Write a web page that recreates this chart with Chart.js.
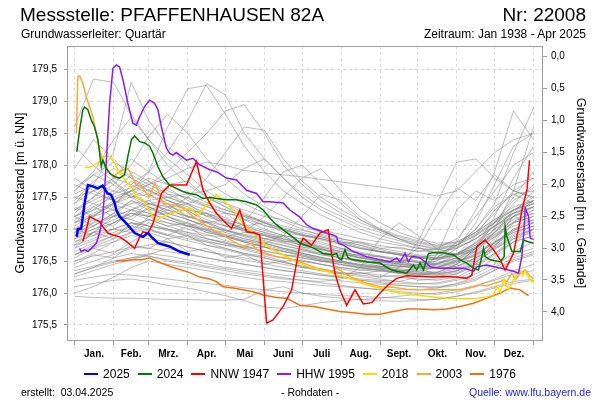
<!DOCTYPE html>
<html>
<head>
<meta charset="utf-8">
<script src="https://cdn.jsdelivr.net/npm/chart.js@4.4.1/dist/chart.umd.min.js"></script>
<style>
  body { margin: 0; background: #fff; font-family: "Liberation Sans", Arial, sans-serif; }
  #wrap { position: relative; width: 600px; height: 400px; overflow: hidden; }
  canvas { position: absolute; left: 0; top: 0; }
  .t { position: absolute; white-space: nowrap; color: #000; line-height: 1; }
  #legend { position: absolute; left: 0; width: 600px; top: 368px; display: flex; justify-content: center; font-size: 12px; line-height: 12px; }
  #legend span.item { display: flex; align-items: center; margin: 0 4px; }
  #legend span.line { display: inline-block; width: 14px; height: 2px; margin-right: 5px; }
</style>
</head>
<body>
<div id="wrap">
  <canvas id="chart" width="600" height="400"></canvas>
  <div class="t" style="left:20px;top:5px;font-size:19px">Messstelle: PFAFFENHAUSEN 82A</div>
  <div class="t" style="right:14px;top:5px;font-size:19px">Nr: 22008</div>
  <div class="t" style="left:21px;top:28px;font-size:12px">Grundwasserleiter: Quartär</div>
  <div class="t" style="right:14px;top:28px;font-size:12px">Zeitraum: Jan 1938 - Apr 2025</div>
  <div id="legend"></div>
  <div class="t" style="left:21px;top:387px;font-size:10.5px">erstellt:&nbsp; 03.04.2025</div>
  <div class="t" style="left:281px;top:387px;font-size:10.5px">- Rohdaten -</div>
  <div class="t" style="right:9px;top:387px;font-size:10.5px;color:#2222ff">Quelle: www.lfu.bayern.de</div>
</div>
<script>
// day of year (0 = 1. Jan) and level in m ü. NN
const monthStarts = [0, 31, 59, 90, 120, 151, 181, 212, 243, 273, 304, 334, 365];
const monthMids = [15.5, 45, 74.5, 105, 135.5, 166, 196.5, 227.5, 258, 288.5, 319, 349.5];
const monthNames = ["Jan.", "Feb.", "Mrz.", "Apr.", "Mai", "Juni", "Juli", "Aug.", "Sept.", "Okt.", "Nov.", "Dez."];
const levelTicks = [175.5, 176, 176.5, 177, 177.5, 178, 178.5, 179, 179.5];
const depthTicks = [0, 0.5, 1, 1.5, 2, 2.5, 3, 3.5, 4];
const groundLevel = 179.705;

const days2025 = [1.8, 2.6, 5.3, 8.0, 10.6, 14.5, 18.4, 22.3, 26.3, 29.0, 31.9, 33.2, 35.8, 41.2, 47.8, 54.4, 58.4, 61.1, 66.4, 75.6, 83.6, 91.6];
const lvl2025 = [176.88, 177.00, 177.01, 177.41, 177.69, 177.67, 177.64, 177.68, 177.56, 177.54, 177.41, 177.30, 177.20, 177.09, 176.94, 176.88, 176.94, 176.88, 176.78, 176.73, 176.65, 176.60];

const days2024 = [1.8, 4, 6.6, 8, 10.6, 13.3, 15.9, 18.6, 21.3, 22.5, 25.2, 27.9, 31.9, 35.8, 39.8, 42.4, 45.2, 47.8, 51.8, 55.7, 59.7, 62.4, 66.3, 70.3, 75.6, 81, 86.2, 91.6, 96.9, 102.2, 107.5, 112.8, 120.8, 128.8, 136.7, 144.7, 150, 155.3, 160.6, 165.9, 171.2, 176.6, 179.2, 187.1, 192.5, 195.1, 197.7, 205.7, 208.4, 209.7, 212.4, 215, 217.6, 221.6, 232.3, 242.9, 249.5, 252.2, 256.2, 264.2, 269.4, 272.1, 274.7, 277.4, 281.4, 285.3, 293.3, 301.3, 306.6, 311.9, 317.2, 321.2, 323.9, 325.2, 326.5, 330.5, 338.5, 341.6, 342.4, 343.8, 347.8, 354.4, 357, 359.7, 365];
const lvl2024 = [178.21, 178.55, 178.87, 178.91, 178.87, 178.71, 178.60, 178.40, 177.98, 178.08, 177.95, 177.88, 177.82, 177.80, 177.85, 178.14, 178.40, 178.46, 178.37, 178.35, 178.30, 178.19, 177.98, 177.82, 177.69, 177.64, 177.59, 177.56, 177.54, 177.48, 177.50, 177.48, 177.46, 177.46, 177.43, 177.38, 177.30, 177.17, 177.07, 176.99, 176.91, 176.83, 176.78, 176.73, 176.68, 176.65, 176.62, 176.60, 176.62, 176.55, 176.52, 176.68, 176.55, 176.52, 176.49, 176.47, 176.39, 176.36, 176.34, 176.31, 176.44, 176.36, 176.47, 176.36, 176.62, 176.63, 176.63, 176.60, 176.52, 176.47, 176.39, 176.36, 176.57, 176.70, 176.57, 176.52, 176.49, 176.57, 177.04, 176.88, 176.65, 176.65, 176.83, 176.81, 176.78];

const days1947 = [6.6, 9.3, 11.9, 14.6, 19.9, 22.5, 26.5, 30.5, 35.8, 41.2, 47.8, 51.8, 54.4, 58.4, 62.4, 69.1, 75.6, 89, 96.9, 102.2, 107.5, 112.8, 118.1, 124.8, 131.4, 136.7, 143.3, 147.3, 152.7, 157.9, 165.9, 172.6, 179.2, 181.8, 188.5, 195.1, 201.7, 204.4, 207.1, 211, 216.4, 223, 229.6, 236.3, 242.9, 249.5, 256.2, 264.2, 274.7, 285.3, 293.3, 304, 311.9, 315.9, 319.9, 326.5, 333.1, 338.5, 342.4, 349, 354.4, 355.7, 359.7, 361.8];
const lvl1947 = [176.81, 176.99, 177.20, 177.17, 177.12, 177.04, 176.94, 176.91, 176.88, 176.81, 176.70, 176.88, 176.96, 176.94, 177.09, 177.56, 177.69, 177.69, 178.06, 177.61, 177.41, 177.25, 177.14, 177.01, 177.30, 176.96, 176.94, 176.91, 175.53, 175.58, 175.79, 176.05, 176.75, 176.86, 176.75, 176.94, 176.99, 176.62, 176.31, 176.05, 175.81, 176.05, 175.83, 175.85, 176.00, 176.13, 176.23, 176.27, 176.26, 176.25, 176.26, 176.25, 176.23, 176.28, 176.73, 176.83, 176.68, 176.52, 176.36, 176.62, 177.14, 177.30, 177.61, 178.08];

const days1995 = [4, 5.3, 8, 10.6, 13.3, 17.3, 19.9, 22.5, 23.9, 27.9, 30.5, 33.2, 35.8, 38.5, 42.4, 46.4, 49.1, 51.8, 55.7, 59.7, 63.7, 66.3, 69.1, 73, 75.6, 78.3, 81, 85, 89, 94.2, 99.5, 107.5, 112.8, 120.8, 128.8, 136.7, 144.7, 150, 155.3, 165.9, 171.2, 179.2, 184.5, 189.8, 200.4, 205.7, 208.4, 209.7, 213.7, 221.6, 232.3, 242.9, 250.9, 256.2, 258.8, 262.8, 265.4, 268.1, 270.8, 274.7, 278.7, 282.7, 290.7, 309.2, 317.2, 319.9, 327.9, 338.5, 349.1, 353, 355.7, 357, 358.4, 361, 362.3, 365];
const lvl1995 = [176.70, 176.65, 176.68, 176.65, 176.70, 176.78, 176.94, 177.20, 177.61, 178.97, 179.52, 179.57, 179.54, 179.34, 178.97, 178.66, 178.63, 178.76, 178.92, 179.02, 178.97, 178.87, 178.60, 178.27, 178.19, 178.16, 178.20, 178.14, 178.08, 178.11, 178.01, 177.93, 177.90, 177.80, 177.77, 177.61, 177.56, 177.43, 177.43, 177.41, 177.30, 177.19, 177.07, 177.01, 176.94, 176.91, 176.88, 176.78, 176.75, 176.65, 176.57, 176.52, 176.49, 176.55, 176.49, 176.62, 176.49, 176.57, 176.57, 176.55, 176.49, 176.41, 176.39, 176.39, 176.34, 176.41, 176.44, 176.39, 176.34, 176.31, 176.57, 176.88, 177.33, 177.20, 176.86, 176.84];

const days2018 = [8, 11.9, 15.9, 19.9, 23.9, 27.9, 31.9, 35.8, 41.2, 45.2, 49.1, 54.4, 59.7, 63.7, 70.3, 81, 91.6, 98.2, 104.9, 112.8, 118.1, 126.1, 134, 142, 150, 157.9, 165.9, 173.8, 179.2, 189.8, 200.4, 211, 221.6, 232.3, 242.9, 253.5, 264.2, 274.7, 285.3, 296, 306.6, 317.2, 327.9, 333.1, 335.8, 338.5, 341.6, 345.1, 349.1, 354.4, 356.5, 358.4, 362.3, 365];
const lvl2018 = [177.97, 177.97, 178.01, 178.06, 178.14, 178.14, 178.03, 177.88, 177.74, 177.67, 177.51, 177.46, 177.30, 177.12, 177.20, 177.27, 177.33, 177.22, 177.38, 177.54, 177.46, 177.30, 177.09, 176.94, 176.78, 176.68, 176.60, 176.52, 176.46, 176.39, 176.34, 176.27, 176.21, 176.13, 176.08, 176.02, 175.99, 175.96, 175.94, 175.92, 175.91, 175.91, 175.94, 175.97, 176.10, 176.02, 176.21, 176.05, 176.21, 176.36, 176.28, 176.34, 176.21, 176.16];

const days2003 = [1.5, 2.6, 4, 6.6, 9.3, 11.9, 14.6, 17.3, 19.9, 22.5, 25.2, 27.9, 30.5, 34.5, 38.5, 42.4, 45.2, 49.1, 53.1, 57.1, 59.7, 63.7, 66.3, 70.3, 78.3, 86.2, 94.2, 102.2, 110.1, 118.1, 126.1, 134, 140.7, 144.7, 152.7, 160.6, 168.6, 179.2, 192.5, 205.7, 208.4, 219, 232.3, 242.9, 253.5, 264.2, 274.7, 296, 306.6, 317.2, 322.5, 327.9, 333.1, 338.5, 341.1, 343.8, 347.8, 350.4, 354.4, 358.4, 362.3, 365];
const lvl2003 = [178.50, 179.39, 179.40, 179.28, 179.07, 178.92, 178.76, 178.50, 178.24, 178.08, 177.98, 177.88, 177.82, 177.88, 177.93, 177.95, 177.85, 177.69, 177.67, 177.56, 177.51, 177.72, 177.61, 177.41, 177.38, 177.33, 177.20, 177.09, 176.99, 176.91, 176.81, 176.73, 176.78, 176.68, 176.62, 176.57, 176.55, 176.49, 176.39, 176.34, 176.39, 176.26, 176.15, 176.10, 176.09, 176.06, 176.05, 176.05, 176.05, 176.10, 176.13, 176.11, 176.15, 176.18, 176.21, 176.18, 176.31, 176.21, 176.31, 176.36, 176.26, 176.23];

const days1976 = [33.2, 38.5, 46.4, 53.1, 59.7, 66.3, 75.6, 83.6, 91.6, 99.5, 107.5, 112.8, 118.1, 126.1, 134, 142, 150, 160.6, 168.6, 179.2, 189.8, 200.4, 211, 221.6, 232.3, 242.9, 253.5, 264.2, 274.7, 285.3, 296, 306.6, 317.2, 327.9, 338.5, 346.4, 354.4, 361];
const lvl1976 = [176.51, 176.50, 176.52, 176.52, 176.55, 176.49, 176.42, 176.37, 176.32, 176.25, 176.22, 176.18, 176.10, 176.08, 176.05, 176.02, 175.97, 175.93, 175.92, 175.81, 175.79, 175.75, 175.71, 175.69, 175.67, 175.67, 175.71, 175.75, 175.75, 175.74, 175.75, 175.79, 175.84, 175.92, 176.00, 176.08, 176.05, 175.96];

// other years 1938-2023, read at half-month steps
const greyDays = [0, 15, 31, 45, 59, 74, 90, 105, 120, 135, 151, 166, 181, 196, 212, 227, 243, 258, 273, 288, 304, 319, 334, 349, 365];
const g01 = [177.30, 177.45, 177.60, 177.52, 177.40, 177.35, 177.28, 177.15, 177.05, 176.98, 176.90, 176.82, 176.75, 176.68, 176.60, 176.55, 176.50, 176.46, 176.42, 176.40, 176.45, 176.60, 176.80, 176.95, 177.05];
const g02 = [176.90, 177.10, 177.35, 177.70, 177.55, 177.40, 177.20, 177.10, 176.95, 176.85, 176.78, 176.70, 176.62, 176.55, 176.50, 176.42, 176.38, 176.35, 176.30, 176.28, 176.35, 176.50, 176.72, 177.10, 177.30];
const g03 = [177.60, 177.85, 177.70, 177.50, 177.62, 177.45, 177.30, 177.25, 177.12, 177.00, 176.92, 176.85, 176.80, 176.72, 176.65, 176.58, 176.52, 176.48, 176.55, 176.60, 176.75, 177.00, 177.35, 177.55, 177.60];
const g04 = [176.50, 176.62, 176.80, 176.95, 177.10, 177.00, 176.88, 176.80, 176.70, 176.62, 176.55, 176.48, 176.42, 176.35, 176.30, 176.26, 176.22, 176.18, 176.15, 176.14, 176.20, 176.30, 176.45, 176.60, 176.70];
const g05 = [177.95, 178.40, 178.10, 177.80, 177.60, 177.50, 177.40, 177.30, 177.18, 177.05, 176.95, 176.85, 176.78, 176.70, 176.62, 176.55, 176.50, 176.45, 176.42, 176.40, 176.48, 176.65, 176.95, 177.30, 177.45];
const g06 = [176.20, 176.25, 176.30, 176.28, 176.25, 176.22, 176.18, 176.15, 176.12, 176.08, 176.05, 176.02, 176.00, 175.98, 175.96, 175.95, 175.93, 175.92, 175.90, 175.90, 175.95, 176.00, 176.08, 176.15, 176.20];
const g07 = [175.95, 175.93, 175.92, 175.92, 175.91, 175.90, 175.90, 175.89, 175.89, 175.90, 176.05, 176.10, 176.00, 175.95, 175.92, 175.90, 175.88, 175.87, 175.88, 175.90, 175.95, 176.02, 176.10, 176.18, 176.22];
const g08 = [178.60, 179.35, 179.30, 178.80, 178.40, 178.10, 177.85, 177.60, 177.40, 177.25, 177.10, 177.00, 176.92, 176.85, 176.78, 176.70, 176.65, 176.60, 176.55, 176.52, 176.60, 176.80, 177.05, 177.20, 177.30];
const g09 = [177.40, 177.70, 178.20, 179.30, 178.70, 178.30, 178.00, 177.75, 177.55, 177.40, 177.25, 177.12, 177.00, 176.90, 176.82, 176.75, 176.68, 176.62, 176.58, 176.55, 176.62, 176.78, 177.00, 177.20, 177.35];
const g10 = [177.00, 177.20, 177.40, 177.60, 177.90, 178.60, 179.20, 179.25, 178.80, 178.30, 177.90, 177.60, 177.40, 177.22, 177.08, 176.95, 176.85, 176.78, 176.70, 176.65, 176.70, 176.85, 177.05, 177.25, 177.40];
const g11 = [177.50, 177.60, 177.80, 177.70, 177.90, 178.20, 178.70, 179.28, 179.10, 178.50, 178.10, 177.80, 177.55, 177.35, 177.20, 177.05, 176.95, 176.85, 176.78, 176.72, 176.75, 176.90, 177.10, 177.25, 177.35];
const g12 = [176.80, 176.95, 177.10, 177.25, 177.20, 177.30, 177.50, 177.80, 178.20, 178.60, 178.55, 178.10, 177.75, 177.50, 177.30, 177.15, 177.00, 176.90, 176.82, 176.75, 176.80, 176.95, 177.15, 177.30, 177.40];
const g13 = [177.20, 177.35, 177.50, 177.60, 177.70, 177.80, 177.95, 178.05, 178.00, 177.92, 177.88, 177.85, 177.82, 177.78, 177.74, 177.70, 177.66, 177.62, 177.58, 177.52, 177.60, 177.90, 178.20, 178.40, 178.50];
const g14 = [177.00, 177.10, 177.20, 177.15, 177.05, 176.98, 176.90, 176.82, 176.75, 176.68, 176.60, 176.55, 176.50, 176.45, 176.40, 176.36, 176.34, 176.32, 176.40, 176.55, 176.80, 177.30, 177.90, 178.85, 178.40];
const g15 = [176.70, 176.82, 176.95, 177.05, 176.98, 176.90, 176.82, 176.75, 176.68, 176.60, 176.55, 176.48, 176.42, 176.38, 176.32, 176.28, 176.25, 176.40, 176.80, 177.40, 178.05, 178.10, 177.80, 177.60, 177.50];
const g16 = [177.10, 177.25, 177.40, 177.50, 177.35, 177.20, 177.10, 177.00, 176.90, 176.80, 176.72, 176.65, 176.58, 176.52, 176.48, 176.45, 176.42, 176.40, 176.45, 176.55, 176.75, 177.00, 177.40, 178.20, 178.90];
const g17 = [176.60, 176.75, 176.90, 177.00, 177.15, 177.05, 176.95, 176.85, 176.78, 176.70, 176.62, 176.55, 176.50, 176.45, 176.38, 176.32, 176.28, 176.25, 176.22, 176.20, 176.25, 176.40, 176.60, 176.80, 176.90];
const g18 = [177.20, 177.40, 177.55, 177.65, 177.80, 177.70, 177.55, 177.42, 177.30, 177.20, 177.10, 177.02, 176.95, 176.88, 176.80, 176.72, 176.65, 176.60, 176.55, 176.52, 176.58, 176.72, 176.90, 177.10, 177.20];
const g19 = [176.40, 176.50, 176.60, 176.70, 176.75, 176.80, 176.72, 176.65, 176.58, 176.52, 176.46, 176.40, 176.35, 176.30, 176.25, 176.20, 176.16, 176.12, 176.10, 176.08, 176.12, 176.20, 176.35, 176.50, 176.60];
const g20 = [177.70, 177.55, 177.45, 177.60, 177.75, 177.55, 177.40, 177.50, 177.35, 177.15, 177.00, 176.90, 176.85, 176.80, 176.70, 176.62, 176.56, 176.52, 176.48, 176.46, 176.55, 176.70, 176.95, 177.25, 177.60];
const g21 = [176.90, 177.00, 177.15, 177.25, 177.20, 177.10, 177.05, 177.00, 176.95, 177.10, 177.50, 177.90, 178.00, 177.70, 177.40, 177.15, 176.98, 176.85, 176.75, 176.68, 176.72, 176.85, 177.05, 177.25, 177.35];
const g22 = [176.60, 176.72, 176.85, 176.95, 177.00, 176.92, 176.85, 176.80, 176.75, 176.72, 176.78, 176.90, 177.20, 177.55, 177.45, 177.20, 177.00, 176.85, 176.72, 176.62, 176.60, 176.70, 176.88, 177.05, 177.15];
const g23 = [176.30, 176.40, 176.55, 176.62, 176.58, 176.50, 176.45, 176.40, 176.35, 176.30, 176.26, 176.22, 176.20, 176.18, 176.22, 176.40, 176.85, 177.10, 176.90, 176.70, 176.60, 176.65, 176.80, 177.00, 177.10];
const g24 = [177.40, 177.60, 177.45, 177.35, 177.25, 177.15, 177.05, 176.95, 176.88, 176.80, 176.72, 176.65, 176.60, 176.52, 176.45, 176.40, 176.36, 176.32, 176.30, 176.28, 176.32, 176.45, 176.62, 176.80, 176.90];
const g25 = [176.75, 176.95, 177.20, 177.30, 177.40, 177.45, 177.35, 177.20, 177.10, 177.00, 176.92, 176.84, 176.78, 176.72, 176.65, 176.58, 176.52, 176.48, 176.45, 176.44, 176.50, 176.60, 176.78, 176.98, 177.10];
const g26 = [176.50, 176.58, 176.65, 176.72, 176.70, 176.65, 176.60, 176.55, 176.50, 176.45, 176.40, 176.35, 176.32, 176.28, 176.25, 176.22, 176.20, 176.18, 176.25, 176.60, 177.30, 177.60, 177.45, 177.70, 177.80];
const g27 = [178.30, 178.00, 177.75, 177.55, 177.40, 177.30, 177.20, 177.12, 177.05, 176.98, 176.90, 176.82, 176.75, 176.68, 176.62, 176.56, 176.50, 176.46, 176.44, 176.50, 176.70, 177.10, 177.70, 178.30, 178.50];
const g28 = [176.35, 176.42, 176.50, 176.55, 176.58, 176.52, 176.48, 176.42, 176.38, 176.33, 176.28, 176.24, 176.20, 176.16, 176.12, 176.08, 176.05, 176.02, 176.00, 175.98, 176.02, 176.10, 176.22, 176.35, 176.45];
const g29 = [176.10, 176.15, 176.20, 176.22, 176.18, 176.12, 176.08, 176.02, 175.96, 175.88, 175.78, 175.76, 175.80, 175.85, 175.88, 175.90, 175.92, 175.95, 175.98, 176.00, 176.05, 176.12, 176.20, 176.30, 176.35];
const g30 = [177.30, 177.50, 177.70, 178.00, 178.45, 178.80, 178.50, 178.10, 177.80, 177.55, 177.35, 177.20, 177.05, 176.95, 176.85, 176.78, 176.70, 176.65, 176.60, 176.58, 176.62, 176.75, 176.95, 177.15, 177.25];
const g31 = [176.95, 177.05, 177.25, 177.45, 177.35, 177.25, 177.15, 177.05, 176.98, 176.90, 176.82, 176.75, 176.68, 176.60, 176.55, 176.50, 176.45, 176.42, 176.40, 176.45, 176.60, 176.90, 177.30, 177.55, 177.40];
const g32 = [177.50, 177.40, 177.30, 177.20, 177.40, 177.30, 177.20, 177.10, 177.00, 176.90, 176.85, 176.80, 176.70, 176.62, 176.55, 176.48, 176.42, 176.38, 176.35, 176.33, 176.40, 176.55, 176.85, 177.20, 177.45];
const g33 = [177.60, 177.90, 178.40, 178.75, 178.40, 178.00, 177.70, 177.50, 177.35, 177.22, 177.10, 177.00, 176.92, 176.85, 176.78, 176.70, 176.65, 176.60, 176.56, 176.54, 176.60, 176.72, 176.92, 177.10, 177.20];
const g34 = [176.80, 176.90, 177.00, 177.10, 177.05, 177.00, 176.92, 176.85, 176.78, 176.72, 176.66, 176.60, 176.55, 176.50, 176.45, 176.40, 176.36, 176.33, 176.30, 176.32, 176.45, 176.70, 177.20, 177.80, 178.30];
const g35 = [177.10, 177.20, 177.30, 177.40, 177.45, 177.50, 177.55, 177.60, 177.70, 177.95, 178.10, 177.80, 177.50, 177.30, 177.15, 177.00, 176.90, 176.82, 176.75, 176.70, 176.75, 176.90, 177.10, 177.30, 177.40];
const g36 = [177.20, 177.30, 177.40, 177.55, 177.70, 177.90, 178.20, 178.50, 178.85, 178.95, 178.50, 178.00, 177.70, 177.45, 177.25, 177.10, 176.98, 176.88, 176.80, 176.74, 176.78, 176.92, 177.12, 177.30, 177.45];
const g37 = [177.05, 177.22, 177.38, 177.30, 177.20, 177.25, 177.15, 177.02, 176.92, 176.85, 176.78, 176.70, 176.63, 176.56, 176.50, 176.44, 176.40, 176.36, 176.33, 176.31, 176.38, 176.52, 176.75, 176.98, 177.10];
const g38 = [176.85, 177.00, 177.10, 177.20, 177.32, 177.20, 177.08, 176.98, 176.88, 176.80, 176.72, 176.66, 176.60, 176.54, 176.48, 176.43, 176.39, 176.35, 176.32, 176.30, 176.34, 176.48, 176.68, 176.88, 177.00];
const g39 = [177.45, 177.75, 177.95, 177.80, 177.65, 177.50, 177.38, 177.25, 177.15, 177.06, 176.98, 176.90, 176.84, 176.77, 176.70, 176.64, 176.58, 176.54, 176.50, 176.48, 176.55, 176.70, 176.95, 177.20, 177.35];
const g40 = [176.65, 176.78, 176.90, 177.05, 177.15, 177.10, 177.00, 176.92, 176.82, 176.74, 176.66, 176.60, 176.55, 176.50, 176.44, 176.39, 176.35, 176.31, 176.28, 176.26, 176.30, 176.42, 176.62, 176.85, 177.00];
const g41 = [177.15, 177.30, 177.55, 177.75, 177.60, 177.45, 177.32, 177.22, 177.12, 177.02, 176.95, 176.88, 176.80, 176.74, 176.68, 176.62, 176.57, 176.52, 176.48, 176.46, 176.52, 176.66, 176.88, 177.12, 177.25];
const g42 = [176.30, 176.40, 176.48, 176.55, 176.62, 176.58, 176.52, 176.46, 176.40, 176.36, 176.32, 176.28, 176.25, 176.22, 176.19, 176.16, 176.14, 176.12, 176.10, 176.10, 176.14, 176.22, 176.36, 176.52, 176.62];
const g43 = [177.10, 177.35, 177.20, 177.45, 177.30, 177.40, 177.18, 177.25, 177.05, 177.00, 176.85, 176.90, 176.72, 176.70, 176.58, 176.60, 176.48, 176.50, 176.42, 176.45, 176.55, 176.48, 176.70, 176.90, 177.00];
const g44 = [176.70, 176.95, 176.85, 177.10, 177.00, 176.90, 177.05, 176.85, 176.80, 176.70, 176.72, 176.60, 176.58, 176.50, 176.48, 176.40, 176.42, 176.35, 176.38, 176.30, 176.35, 176.45, 176.40, 176.65, 176.80];
const g45 = [177.80, 177.60, 177.75, 177.50, 177.55, 177.35, 177.40, 177.20, 177.25, 177.05, 177.10, 176.95, 176.90, 176.85, 176.78, 176.80, 176.70, 176.72, 176.65, 176.70, 176.85, 177.20, 177.60, 178.00, 178.20];
const g46 = [176.45, 176.60, 176.55, 176.75, 176.70, 176.85, 176.65, 176.70, 176.55, 176.60, 176.45, 176.50, 176.40, 176.38, 176.30, 176.32, 176.25, 176.28, 176.20, 176.22, 176.30, 176.45, 176.80, 177.20, 177.10];
const g47 = [177.25, 177.50, 177.80, 178.10, 177.90, 177.70, 177.75, 177.50, 177.40, 177.30, 177.20, 177.15, 177.05, 176.98, 176.92, 176.85, 176.80, 176.75, 176.70, 176.68, 176.75, 176.95, 177.25, 177.60, 177.80];
const g48 = [176.95, 177.15, 177.05, 177.30, 177.45, 177.25, 177.30, 177.10, 177.15, 176.95, 176.90, 176.80, 176.82, 176.68, 176.65, 176.55, 176.58, 176.48, 176.50, 176.42, 176.48, 176.62, 176.78, 177.00, 177.15];
const g49 = [176.55, 176.70, 176.62, 176.80, 176.95, 176.85, 176.90, 176.75, 176.70, 176.62, 176.58, 176.50, 176.52, 176.45, 176.40, 176.36, 176.38, 176.30, 176.28, 176.32, 176.45, 176.70, 177.10, 177.50, 177.90];
const g50 = [177.35, 177.20, 177.45, 177.60, 177.50, 177.65, 177.45, 177.35, 177.25, 177.20, 177.05, 177.00, 176.90, 176.88, 176.80, 176.75, 176.65, 176.62, 176.58, 176.55, 176.60, 176.78, 177.05, 177.40, 177.70];
const g51 = [176.85, 176.95, 177.00, 177.10, 177.05, 177.00, 176.95, 176.90, 176.88, 176.95, 177.20, 177.50, 177.80, 177.95, 177.60, 177.30, 177.10, 176.95, 176.85, 176.78, 176.80, 176.95, 177.15, 177.35, 177.45];
const g52 = [176.60, 176.70, 176.80, 176.90, 176.85, 176.80, 176.72, 176.65, 176.60, 176.55, 176.50, 176.45, 176.40, 176.35, 176.32, 176.30, 176.35, 176.50, 176.70, 177.20, 177.65, 177.45, 177.85, 177.60, 177.50];
const g53 = [177.00, 176.90, 177.10, 177.25, 177.15, 177.05, 177.10, 176.95, 176.90, 176.82, 176.78, 176.70, 176.66, 176.60, 176.55, 176.50, 176.45, 176.42, 176.38, 176.40, 176.50, 176.58, 176.75, 176.95, 177.05];
const g54 = [176.25, 176.35, 176.45, 176.52, 176.60, 176.70, 176.62, 176.55, 176.50, 176.45, 176.40, 176.35, 176.32, 176.28, 176.24, 176.20, 176.18, 176.15, 176.14, 176.16, 176.22, 176.35, 176.55, 176.80, 177.00];
const g55 = [177.55, 177.70, 177.60, 177.85, 177.70, 177.55, 177.50, 177.38, 177.30, 177.22, 177.12, 177.05, 176.98, 176.92, 176.85, 176.80, 176.74, 176.70, 176.66, 176.64, 176.70, 176.85, 177.10, 177.45, 177.65];
const g56 = [176.75, 176.85, 177.00, 176.95, 177.20, 177.35, 177.15, 177.05, 176.98, 176.88, 176.80, 176.74, 176.68, 176.62, 176.56, 176.50, 176.46, 176.42, 176.40, 176.38, 176.42, 176.55, 176.70, 176.85, 176.95];
const g57 = [176.00, 176.10, 176.25, 176.40, 176.50, 176.45, 176.40, 176.35, 176.30, 176.25, 176.20, 176.18, 176.15, 176.12, 176.10, 176.08, 176.06, 176.05, 176.05, 176.08, 176.15, 176.25, 176.40, 176.55, 176.65];
const g58 = [177.20, 177.05, 177.25, 177.15, 177.35, 177.20, 177.05, 177.12, 176.98, 176.92, 176.85, 176.78, 176.72, 176.65, 176.58, 176.52, 176.48, 176.44, 176.40, 176.38, 176.42, 176.55, 176.72, 176.92, 177.05];
const g59 = [176.90, 177.05, 177.20, 177.30, 177.25, 177.15, 177.05, 176.98, 176.90, 176.82, 176.75, 176.68, 176.62, 176.56, 176.50, 176.45, 176.40, 176.36, 176.34, 176.40, 176.52, 176.70, 177.00, 177.60, 178.60];
const g60 = [177.65, 177.85, 178.05, 177.90, 177.75, 177.60, 177.48, 177.36, 177.26, 177.16, 177.06, 176.98, 176.90, 176.83, 176.76, 176.70, 176.64, 176.60, 176.56, 176.54, 176.60, 176.75, 177.00, 177.30, 177.50];
const greyLines = [g01, g02, g03, g04, g05, g06, g07, g08, g09, g10, g11, g12, g13, g14, g15, g16, g17, g18, g19, g20,
  g21, g22, g23, g24, g25, g26, g27, g28, g29, g30, g31, g32, g33, g34, g35, g36, g37, g38, g39, g40,
  g41, g42, g43, g44, g45, g46, g47, g48, g49, g50, g51, g52, g53, g54, g55, g56, g57, g58, g59, g60];

const series = [
  { label: "2025", days: days2025, values: lvl2025, color: "#0000ff", width: 2.5 },
  { label: "2024", days: days2024, values: lvl2024, color: "#007a00", width: 1.5 },
  { label: "NNW 1947", days: days1947, values: lvl1947, color: "#ff0000", width: 1.5 },
  { label: "HHW 1995", days: days1995, values: lvl1995, color: "#8c1aff", width: 1.5 },
  { label: "2018", days: days2018, values: lvl2018, color: "#ffd800", width: 1.5 },
  { label: "2003", days: days2003, values: lvl2003, color: "#ffa838", width: 1.5 },
  { label: "1976", days: days1976, values: lvl1976, color: "#f37012", width: 1.5 },
];

const toPoints = (days, values) => values.map((v, i) => ({ x: days[i], y: v }));
const comma = (v) => v.toFixed(1).replace(".", ",");

const datasets = series.map((s) => ({
  label: s.label,
  data: toPoints(s.days, s.values),
  borderColor: s.color,
  borderWidth: s.width,
}));
greyLines.forEach((g) => {
  datasets.push({
    label: "",
    data: toPoints(greyDays, g),
    borderColor: "rgba(125, 125, 125, 0.5)",
    borderWidth: 1,
  });
});

const plotFrame = {
  id: "plotFrame",
  afterDatasetsDraw(chart) {
    const { ctx, chartArea: a } = chart;
    ctx.save();
    ctx.strokeStyle = "#a0a0a0";
    ctx.lineWidth = 1;
    ctx.strokeRect(a.left + 0.5, a.top + 0.5, a.right - a.left - 1, a.bottom - a.top);
    ctx.restore();
  },
};

Chart.defaults.font.family = '"Liberation Sans", Arial, sans-serif';
Chart.defaults.color = "#000";

new Chart(document.getElementById("chart"), {
  type: "line",
  data: { datasets: datasets },
  plugins: [plotFrame],
  options: {
    responsive: false,
    animation: false,
    events: [],
    devicePixelRatio: 1,
    layout: { padding: { top: 46, bottom: 38, left: 0, right: 0 } },
    elements: { point: { radius: 0 }, line: { tension: 0 } },
    plugins: { legend: { display: false }, tooltip: { enabled: false } },
    scales: {
      x: {
        type: "linear",
        position: "bottom",
        min: -6,
        max: 372.5,
        afterBuildTicks: (scale) => { scale.ticks = monthStarts.map((v) => ({ value: v })); },
        afterFit: (scale) => { scale.height = 5; },
        ticks: { display: false },
        grid: { color: "#dcdcdc", tickColor: "#9a9a9a", tickLength: 5 },
        border: { display: false, dash: [3, 3] },
      },
      x2: {
        type: "linear",
        position: "bottom",
        min: -6,
        max: 372.5,
        afterBuildTicks: (scale) => { scale.ticks = monthMids.map((v) => ({ value: v })); },
        afterFit: (scale) => { scale.height = 17; },
        ticks: {
          autoSkip: false,
          maxRotation: 0,
          padding: 3,
          font: { size: 10, weight: "bold" },
          callback: (v, i) => monthNames[i],
        },
        grid: { display: false, drawTicks: false },
        border: { display: false },
      },
      y: {
        type: "linear",
        position: "left",
        min: 175.265,
        max: 179.868,
        afterBuildTicks: (scale) => { scale.ticks = levelTicks.map((v) => ({ value: v })); },
        afterFit: (scale) => { scale.width = 67; },
        ticks: { padding: 7, font: { size: 10 }, callback: (v) => comma(v) },
        grid: { color: "#dcdcdc", tickColor: "#9a9a9a", tickLength: 3 },
        border: { display: false, dash: [3, 3] },
        title: { display: true, text: "Grundwasserstand [m ü. NN]", font: { size: 12.5 }, padding: { top: 13, bottom: 0 } },
      },
      y2: {
        type: "linear",
        position: "right",
        reverse: true,
        min: groundLevel - 179.868,
        max: groundLevel - 175.265,
        afterBuildTicks: (scale) => { scale.ticks = depthTicks.map((v) => ({ value: v })); },
        afterFit: (scale) => { scale.width = 57; },
        ticks: { padding: 4, font: { size: 10 }, callback: (v) => comma(v) },
        grid: { drawOnChartArea: false, tickColor: "#9a9a9a", tickLength: 4 },
        border: { display: false },
        title: { display: true, text: "Grundwasserstand [m u. Gelände]", font: { size: 12.5 }, padding: { top: 12, bottom: 0 } },
      },
    },
  },
});

const legend = document.getElementById("legend");
series.forEach((s) => {
  const item = document.createElement("span");
  item.className = "item";
  item.innerHTML = '<span class="line" style="background:' + s.color + '"></span>' + s.label;
  legend.appendChild(item);
});
</script>
</body>
</html>
